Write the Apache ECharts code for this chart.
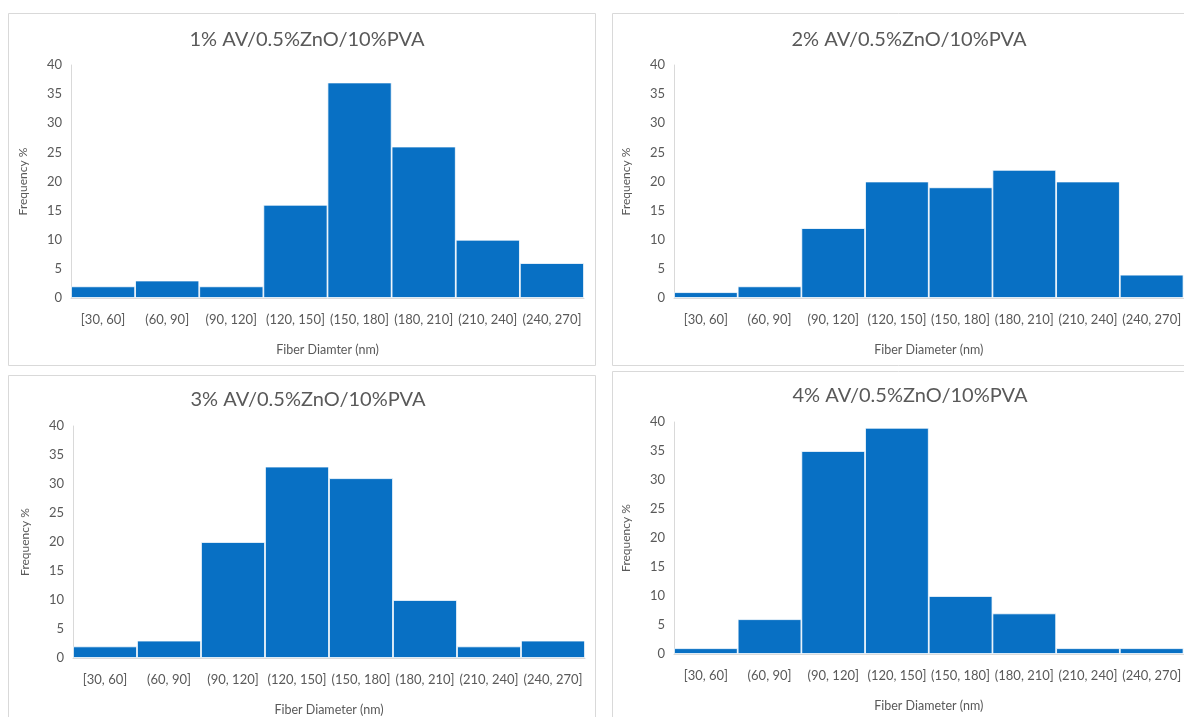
<!DOCTYPE html>
<html>
<head>
<meta charset="utf-8">
<script src="https://cdn.jsdelivr.net/npm/echarts@6/dist/echarts.min.js"></script>
<style>
html,body{margin:0;padding:0;background:#fff;}
#chart{width:1184px;height:717px;}
</style>
</head>
<body>
<div id="chart"></div>
<script>
const categories = ['[30, 60]', '(60, 90]', '(90, 120]', '(120, 150]', '(150, 180]', '(180, 210]', '(210, 240]', '(240, 270]'];
const freq1 = [2, 3, 2, 16, 37, 26, 10, 6];
const freq2 = [1, 2, 12, 20, 19, 22, 20, 4];
const freq3 = [2, 3, 20, 33, 31, 10, 2, 3];
const freq4 = [1, 6, 35, 39, 10, 7, 1, 1];
const titles = ['1% AV/0.5%ZnO/10%PVA', '2% AV/0.5%ZnO/10%PVA', '3% AV/0.5%ZnO/10%PVA', '4% AV/0.5%ZnO/10%PVA'];
const xNames = ['Fiber Diamter (nm)', 'Fiber Diameter (nm)', 'Fiber Diameter (nm)', 'Fiber Diameter (nm)'];
const yName = 'Frequency %';
const yTicks = { min: 0, max: 40, interval: 5 };

const allFreq = [freq1, freq2, freq3, freq4];
const FONT = 'Lato, "Open Sans", sans-serif';
const TXT = '#595959';

const panels = [
  { box: [8, 13, 587, 352], grid: { left: 71, top: 65, width: 513, height: 233 }, title: [302, 25] },
  { box: [612, 13, 590, 352], grid: { left: 674, top: 65, width: 512, height: 233 }, title: [904, 25] },
  { box: [8, 375, 587, 360], grid: { left: 73, top: 426, width: 512, height: 232 }, title: [303, 385] },
  { box: [612, 371, 590, 360], grid: { left: 674, top: 422, width: 512, height: 232 }, title: [905, 381] }
];

const option = {
  animation: false,
  backgroundColor: '#fff',
  graphic: panels.map(p => ({
    type: 'rect', z: -10,
    shape: { x: p.box[0] + 0.5, y: p.box[1] + 0.5, width: p.box[2], height: p.box[3] },
    style: { fill: '#fff', stroke: '#d9d9d9', lineWidth: 1 }
  })),
  title: panels.map((p, i) => ({
    text: titles[i], left: p.title[0], top: p.title[1], textAlign: 'center',
    textStyle: { fontFamily: FONT, fontSize: 20, fontWeight: 'normal', color: TXT }
  })),
  grid: panels.map(p => Object.assign({ containLabel: false }, p.grid)),
  xAxis: panels.map((p, i) => ({
    type: 'category', gridIndex: i, data: categories,
    name: xNames[i], nameLocation: 'middle', nameGap: 45,
    nameTextStyle: { fontFamily: FONT, fontSize: 12.5, color: TXT },
    axisLine: { show: true, lineStyle: { color: '#d9d9d9' } },
    axisTick: { show: false },
    axisLabel: { fontFamily: FONT, fontSize: 13, color: TXT, margin: 15, interval: 0 }
  })),
  yAxis: panels.map((p, i) => ({
    type: 'value', gridIndex: i, min: yTicks.min, max: yTicks.max, interval: yTicks.interval,
    name: yName, nameLocation: 'middle', nameGap: 42,
    nameTextStyle: { fontFamily: FONT, fontSize: 12, color: TXT },
    axisLine: { show: true, lineStyle: { color: '#d9d9d9' } },
    axisTick: { show: false },
    splitLine: { show: false },
    axisLabel: { fontFamily: FONT, fontSize: 13, color: TXT, margin: 9 }
  })),
  series: allFreq.map((d, i) => ({
    type: 'bar', xAxisIndex: i, yAxisIndex: i, data: d,
    barCategoryGap: '0%',
    itemStyle: { color: '#0870C4', borderColor: '#ffffff', borderWidth: 0.8 }
  }))
};

const chart = echarts.init(document.getElementById('chart'), null, { renderer: 'canvas' });
chart.setOption(option);
</script>
</body>
</html>
